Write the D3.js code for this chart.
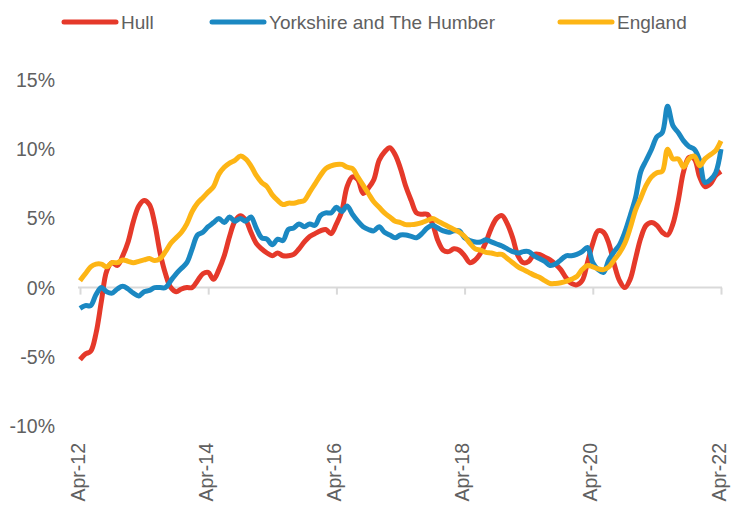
<!DOCTYPE html>
<html>
<head>
<meta charset="utf-8">
<script src="https://cdn.jsdelivr.net/npm/d3@7"></script>
<style>
  body { margin: 0; background: #fff; }
  svg { display: block; }
</style>
</head>
<body>
<svg id="chart" width="731" height="508"></svg>
<script>
// monthly, Apr-12 .. Apr-22 (121 months)
const tickLabels = ["Apr-12", "Apr-14", "Apr-16", "Apr-18", "Apr-20", "Apr-22"];
const yTicks = [-10, -5, 0, 5, 10, 15];
const seriesNames = ["Hull", "Yorkshire and The Humber", "England"];
const seriesColors = ["#e5392a", "#1b88c2", "#fdb515"];

const hull = [
  -5.2, -4.8, -4.6, -3.3, -1.0, 1.2, 1.8, 1.6, 2.3, 3.3, 4.8, 5.9, 6.3, 6.0, 4.6, 2.5, 1.0, 0.0, -0.3, -0.1,
  0.0, 0.0, 0.5, 1.0, 1.1, 0.6, 1.3, 2.3, 3.7, 4.8, 5.2, 4.9, 4.0, 3.2, 2.8, 2.5, 2.3, 2.5, 2.3, 2.3,
  2.4, 2.8, 3.3, 3.7, 3.9, 4.1, 4.2, 3.9, 4.6, 5.5, 7.3, 8.0, 7.8, 6.8, 7.2, 7.8, 9.2, 9.8, 10.1, 9.6,
  8.6, 7.3, 6.3, 5.4, 5.3, 5.3, 4.6, 3.4, 2.7, 2.6, 2.8, 2.7, 2.3, 1.8, 2.0, 2.5, 3.3, 4.3, 5.0, 5.2,
  4.6, 3.6, 2.3, 1.8, 1.9, 2.4, 2.4, 2.2, 2.0, 1.7, 1.3, 0.7, 0.3, 0.2, 0.5, 1.8, 3.2, 4.1, 4.0, 3.2,
  1.7, 0.5, 0.0, 0.6, 2.1, 3.6, 4.5, 4.7, 4.5, 4.0, 3.8, 4.6, 6.3, 8.4, 9.4, 9.3, 8.0, 7.3, 7.5, 8.1,
  8.4
];
const yorkshire = [
  -1.5, -1.3, -1.3, -0.5, 0.0, -0.3, -0.4, -0.1, 0.1, -0.1, -0.4, -0.6, -0.3, -0.2, 0.0, 0.0, 0.0, 0.5, 1.0, 1.4,
  1.8, 2.8, 3.8, 4.0, 4.4, 4.7, 5.0, 4.7, 5.1, 4.8, 5.0, 4.8, 5.1, 4.3, 3.6, 3.5, 3.1, 3.5, 3.4, 4.2,
  4.3, 4.6, 4.4, 4.6, 4.5, 5.2, 5.4, 5.4, 5.8, 5.5, 5.9, 5.3, 4.8, 4.4, 4.2, 4.1, 4.4, 4.0, 3.8, 3.6,
  3.8, 3.8, 3.7, 3.6, 3.9, 4.3, 4.5, 4.3, 4.1, 4.0, 4.1, 4.1, 3.6, 3.4, 3.3, 3.3, 3.45, 3.3, 3.15, 3.0,
  2.8, 2.6, 2.5, 2.6, 2.6, 2.3, 2.1, 1.9, 1.6, 1.7, 2.0, 2.3, 2.3, 2.4, 2.6, 2.9, 1.8, 1.3, 1.1, 2.0,
  2.6, 3.1, 4.0, 5.2, 6.5, 8.4, 9.2, 10.0, 10.9, 11.2, 13.1, 11.7, 11.2, 10.6, 10.2, 10.0, 9.2, 7.6, 7.8, 8.3,
  10.0
];
const england = [
  0.5, 1.0, 1.5, 1.7, 1.7, 1.5, 1.8, 1.8, 2.0, 1.9, 1.8, 1.9, 2.0, 2.1, 1.95, 2.1, 2.6, 3.2, 3.6, 4.0,
  4.6, 5.5, 6.1, 6.5, 6.9, 7.3, 8.2, 8.7, 9.0, 9.2, 9.5, 9.3, 8.8, 8.1, 7.6, 7.3, 6.7, 6.3, 6.0, 6.1,
  6.1, 6.2, 6.3, 6.9, 7.5, 8.1, 8.6, 8.8, 8.9, 8.9, 8.7, 8.6, 8.0, 7.4, 6.8, 6.2, 5.8, 5.4, 5.1, 4.8,
  4.7, 4.55, 4.55, 4.6, 4.7, 4.85, 5.0, 4.8, 4.6, 4.4, 4.2, 4.0, 3.7, 3.2, 2.8, 2.7, 2.55, 2.5, 2.4, 2.4,
  2.1, 1.8, 1.5, 1.3, 1.1, 0.9, 0.75, 0.5, 0.3, 0.3, 0.35, 0.45, 0.6, 0.8, 1.3, 1.6, 1.5, 1.35, 1.3, 1.5,
  2.0, 2.5, 3.2, 4.3, 5.6, 6.5, 7.4, 8.0, 8.3, 8.4, 10.0, 9.3, 9.3, 8.7, 9.3, 9.5, 8.8, 9.3, 9.6, 9.9,
  10.6
];

const svg = d3.select("#chart");
const textColor = "#606060";
const fontFam = "'Liberation Sans', Arial, sans-serif";

const x = d3.scaleLinear().domain([0, 120]).range([80, 721]);
const y = d3.scaleLinear().domain([-10, 15]).range([426, 80]);

// y labels
svg.append("g")
  .selectAll("text")
  .data(yTicks)
  .enter()
  .append("text")
  .attr("x", 55)
  .attr("y", d => y(d))
  .attr("dy", "0.36em")
  .attr("text-anchor", "end")
  .style("font-family", fontFam)
  .style("font-size", "19.5px")
  .style("fill", textColor)
  .text(d => d + "%");

// zero axis with tick marks
const xAxis = d3.axisBottom(x)
  .tickValues(d3.range(0, 121, 24))
  .tickSize(7)
  .tickFormat("");
const axisG = svg.append("g")
  .attr("transform", `translate(0,${y(0)})`)
  .call(xAxis);
axisG.select(".domain").attr("stroke", "#d9d9d9").attr("stroke-width", 2)
  .attr("d", `M${x(0) - 2},0H${x(120) + 1}`);
axisG.selectAll(".tick line").attr("stroke", "#d9d9d9").attr("stroke-width", 2);

// x labels rotated
svg.append("g")
  .selectAll("text")
  .data(tickLabels)
  .enter()
  .append("text")
  .attr("transform", (d, i) => `translate(${x(i * 24) + 4.5},443) rotate(-90)`)
  .attr("text-anchor", "end")
  .style("font-family", fontFam)
  .style("font-size", "19.5px")
  .style("fill", textColor)
  .text(d => d);

// lines
const line = d3.line()
  .x((d, i) => x(i))
  .y(d => y(d))
  .curve(d3.curveCatmullRom);

[hull, yorkshire, england].forEach((s, k) => {
  svg.append("path")
    .datum(s)
    .attr("d", line)
    .attr("fill", "none")
    .attr("stroke", seriesColors[k])
    .attr("stroke-width", 5)
    .attr("stroke-linejoin", "round");
});

// legend
const legendX = [62, 210, 558];
const leg = svg.append("g");
seriesNames.forEach((n, k) => {
  leg.append("line")
    .attr("x1", legendX[k] + 2).attr("x2", legendX[k] + 54)
    .attr("y1", 22).attr("y2", 22)
    .attr("stroke", seriesColors[k])
    .attr("stroke-width", 5)
    .attr("stroke-linecap", "round");
  leg.append("text")
    .attr("x", legendX[k] + 59)
    .attr("y", 22)
    .attr("dy", "0.36em")
    .style("font-family", fontFam)
    .style("font-size", "19px")
    .style("fill", textColor)
    .text(n);
});
</script>
</body>
</html>
